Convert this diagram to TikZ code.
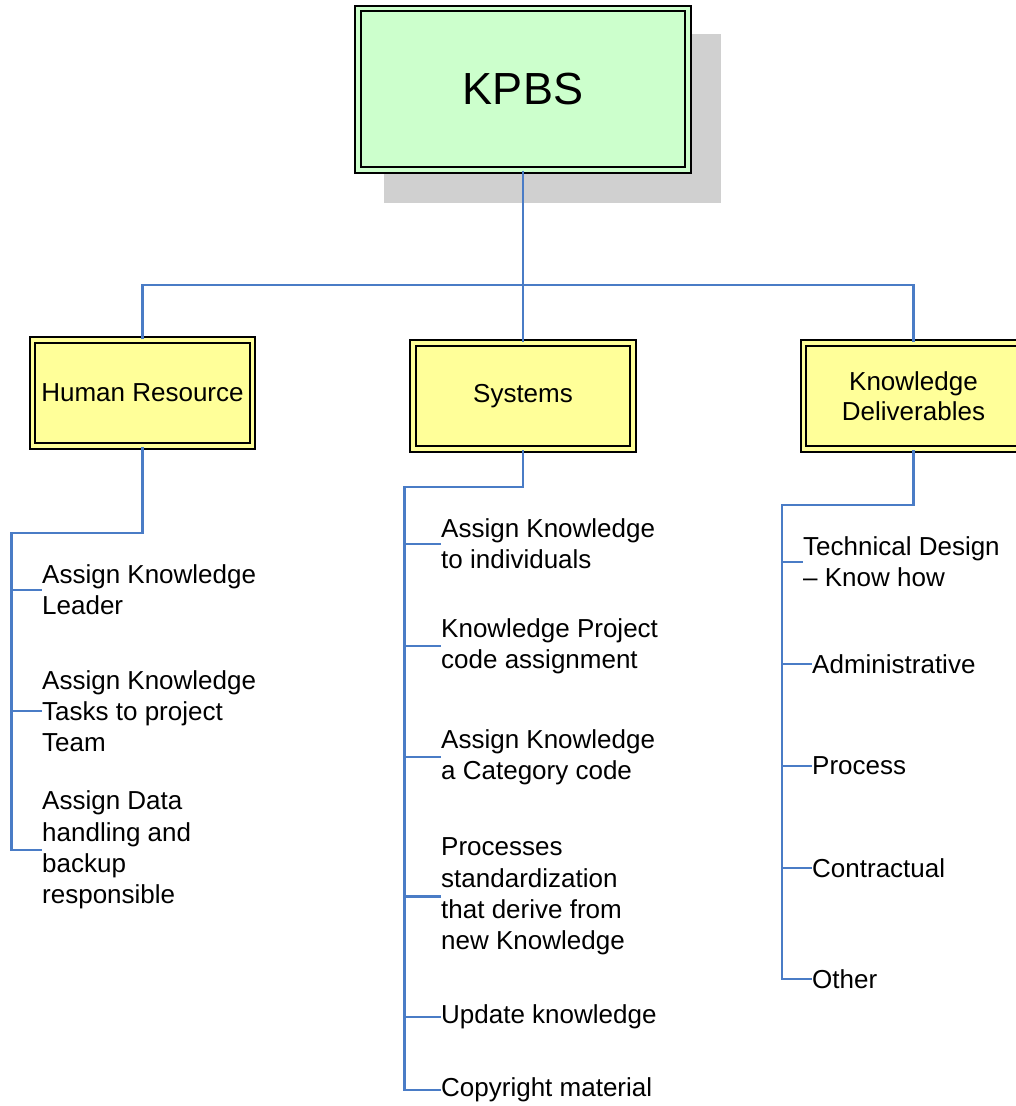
\documentclass[tikz,border=0pt]{standalone}
\usepackage{fontspec}
\setmainfont{Liberation Sans}
\begin{document}
\begin{tikzpicture}[x=1pt,y=-1pt,
  conn/.style={draw=lineblue, line width=2.4pt},
  topbox/.style={draw=black, fill=kpbsgreen, line width=2pt, double=kpbsgreen, double distance=3.5pt,
     inner sep=0pt, minimum width=330pt, minimum height=161.5pt, font=\fontsize{45}{54}\selectfont},
  midbox/.style={draw=black, fill=boxyellow, line width=2pt, double=boxyellow, double distance=3.5pt,
     inner sep=0pt, minimum width=220pt, minimum height=106pt, align=center,
     font=\fontsize{26}{30}\selectfont},
  leaf/.style={anchor=west, inner sep=0pt, align=left, font=\fontsize{26}{31.2}\selectfont}
]
\definecolor{lineblue}{HTML}{4A7CC6}
\definecolor{kpbsgreen}{HTML}{CCFFCC}
\definecolor{boxyellow}{HTML}{FFFF99}
\definecolor{shadowgray}{HTML}{D0D0D0}
\useasboundingbox (0,0) rectangle (1016,1106);

% shadow
\fill[shadowgray] (384,34) rectangle (721,203);

% main nodes
\node[topbox] (kpbs) at (523,89.3) {KPBS};
\node[midbox] (hr) at (142.5,393) {Human Resource};
\node[midbox] (sys) at (523,396) {Systems};
\node[midbox] (kd) at (913.5,396) {Knowledge\\Deliverables};

\coordinate (busT) at (523,285);
\draw[conn] (kpbs.south) -- (sys.north);
\draw[conn] (hr.north) -- (hr.north|-busT) -- (kd.north|-busT) -- (kd.north);

% Human resource leaves
\node[leaf] (h1) at (42,590) {Assign Knowledge\\Leader};
\node[leaf] (h2) at (42,711) {Assign Knowledge\\Tasks to project\\Team};
\node[leaf] (h3) at (42,850) {Assign Data\\handling and\\backup\\responsible};
\coordinate (hb) at (11.5,533);
\draw[conn] (hr.south) |- (hb) -- (hb|-h3.west) -- (h3.west);
\draw[conn] (hb|-h1.west) -- (h1.west);
\draw[conn] (hb|-h2.west) -- (h2.west);

% Systems leaves
\node[leaf] (s1) at (441,544) {Assign Knowledge\\to individuals};
\node[leaf] (s2) at (441,646) {Knowledge Project\\code assignment};
\node[leaf] (s3) at (441,757) {Assign Knowledge\\a Category code};
\node[leaf] (s4) at (441,896.5) {Processes\\standardization\\that derive from\\new Knowledge};
\node[leaf] (s5) at (441,1017) {Update knowledge};
\node[leaf] (s6) at (441,1090) {Copyright material};
\coordinate (sb) at (404.5,487);
\draw[conn] (sys.south) |- (sb) -- (sb|-s6.west) -- (s6.west);
\foreach \n in {s1,s2,s3,s4,s5} \draw[conn] (sb|-\n.west) -- (\n.west);

% Knowledge deliverables leaves
\node[leaf] (k1) at (803,562) {Technical Design\\– Know how};
\node[leaf] (k2) at (812,664) {Administrative};
\node[leaf] (k3) at (812,766) {Process};
\node[leaf] (k4) at (812,868) {Contractual};
\node[leaf] (k5) at (812,979) {Other};
\coordinate (kb) at (782,505);
\draw[conn] (kd.south) |- (kb) -- (kb|-k5.west) -- (k5.west);
\foreach \n in {k1,k2,k3,k4} \draw[conn] (kb|-\n.west) -- (\n.west);
\end{tikzpicture}
\end{document}
